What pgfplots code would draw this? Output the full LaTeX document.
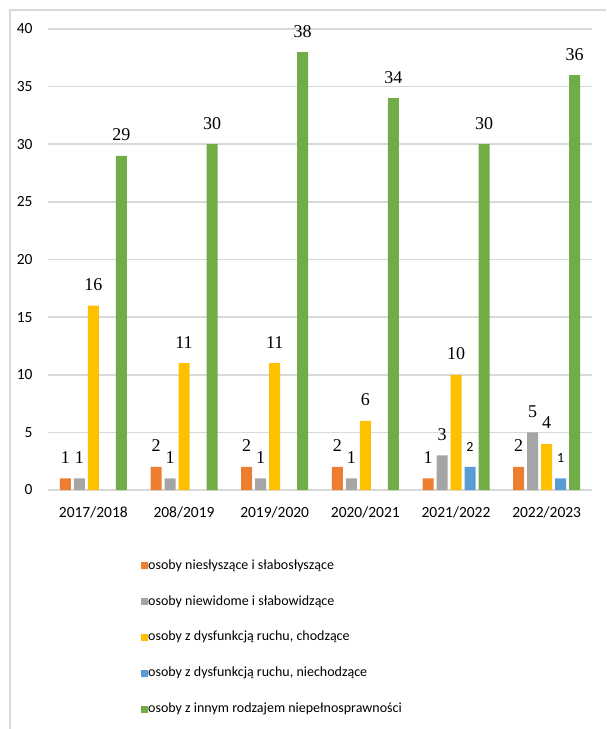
\documentclass[border=0pt]{standalone}
\usepackage{fontspec}
\setmainfont{Carlito}
\newfontfamily\lblfont{Liberation Serif}
\usepackage{pgfplots}
\pgfplotsset{compat=1.18}
\definecolor{cOrange}{HTML}{ED7D31}
\definecolor{cGray}{HTML}{A5A5A5}
\definecolor{cYellow}{HTML}{FFC000}
\definecolor{cBlue}{HTML}{5B9BD5}
\definecolor{cGreen}{HTML}{70AD47}
\definecolor{gridc}{HTML}{D9D9D9}
\pgfplotsset{sq legend/.style={legend image code/.code={\fill[##1] (0pt,-3.5pt) rectangle (7pt,3.5pt);}}}

\begin{document}
\begin{tikzpicture}[x=1pt,y=1pt]
\path[use as bounding box] (0,0) rectangle (606,729);
\draw[gridc, line width=1.5pt] (10,0) -- (10,719) -- (606,719);
\begin{axis}[
    at={(48pt,239pt)}, anchor=south west,
    width=544pt, height=461pt, scale only axis,
    ymin=0, ymax=40, xmin=-0.5, xmax=5.5,
    ytick={0,5,...,40}, xtick={0,...,5},
    xticklabels={2017/2018,208/2019,2019/2020,2020/2021,2021/2022,2022/2023},
    axis line style={draw=none}, major tick style={draw=none},
    ymajorgrids, grid style={gridc, line width=1.5pt},
    ybar, bar width=11pt,
    ticklabel style={font=\fontsize{15.5}{17}\selectfont},
    /pgf/number format/assume math mode=true,
    yticklabel style={anchor=east, xshift=-12pt},
    xticklabel style={anchor=north, yshift=-9pt},
    nodes near coords,
    every node near coord/.append style={font=\lblfont\fontsize{18}{20}\selectfont,
        inner sep=0pt, anchor=base, yshift=15pt, text=black},
    legend style={at={(0.171,-0.150)}, anchor=north west, draw=none,
        inner sep=0pt, font=\fontsize{14}{16}\selectfont,
        row sep=22.8pt, legend cell align=left,
        nodes={inner sep=0pt, text height=10pt, text depth=3pt},
        /tikz/every even column/.append style={column sep=4pt}},
]
\addplot[fill=cOrange, draw=none, bar shift=-28pt, sq legend]
    coordinates {(0,1) (1,2) (2,2) (3,2) (4,1) (5,2)};
\addlegendentry{osoby niesłyszące i słabosłyszące}
\addplot[fill=cGray, draw=none, bar shift=-14pt, sq legend]
    coordinates {(0,1) (1,1) (2,1) (3,1) (4,3) (5,5)};
\addlegendentry{osoby niewidome i słabowidzące}
\addplot[fill=cYellow, draw=none, bar shift=0pt, sq legend]
    coordinates {(0,16) (1,11) (2,11) (3,6) (4,10) (5,4)};
\addlegendentry{osoby z dysfunkcją ruchu, chodzące}
\addplot[fill=cBlue, draw=none, bar shift=14pt, sq legend,
    every node near coord/.append style={font=\fontsize{14}{16}\selectfont, yshift=0.5pt}]
    coordinates {(4,2) (5,1)};
\addlegendentry{osoby z dysfunkcją ruchu, niechodzące}
\addplot[fill=cGreen, draw=none, bar shift=28pt, sq legend]
    coordinates {(0,29) (1,30) (2,38) (3,34) (4,30) (5,36)};
\addlegendentry{osoby z innym rodzajem niepełnosprawności}
\end{axis}
\end{tikzpicture}
\end{document}
